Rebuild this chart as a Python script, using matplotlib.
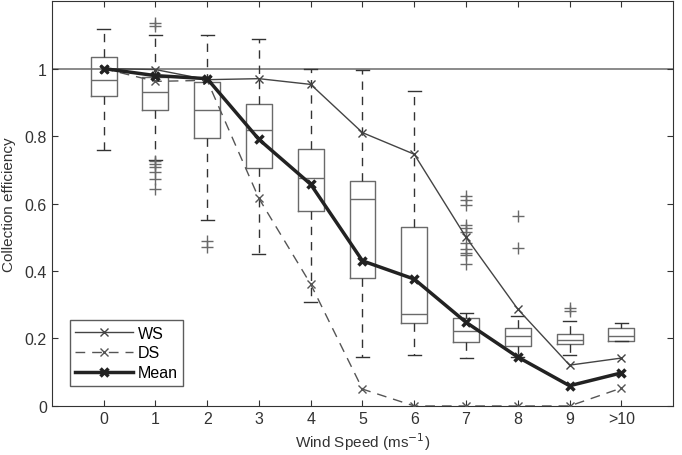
import matplotlib.pyplot as plt
import numpy as np

plt.rcParams['font.family'] = ['Liberation Sans', 'DejaVu Sans']

# Daten
labels = ['0', '1', '2', '3', '4', '5', '6', '7', '8', '9', '>10']
q1 = [0.92, 0.876, 0.795, 0.704, 0.578, 0.38, 0.245, 0.189, 0.178, 0.183, 0.192]
med = [0.967, 0.929, 0.876, 0.817, 0.675, 0.612, 0.272, 0.222, 0.207, 0.195, 0.207]
q3 = [1.033, 0.976, 0.959, 0.896, 0.763, 0.666, 0.53, 0.26, 0.231, 0.213, 0.231]
whislo = [0.76, 0.73, 0.55, 0.45, 0.308, 0.145, 0.151, 0.142, 0.145, 0.151, 0.192]
whishi = [1.118, 1.10, 1.098, 1.088, 1.0, 0.997, 0.932, 0.275, 0.266, 0.251, 0.246]
fliers = [
    [],
    [1.127, 1.136, 0.725, 0.716, 0.707, 0.692, 0.672, 0.642],
    [0.49, 0.47],
    [],
    [],
    [],
    [],
    [0.621, 0.609, 0.595, 0.536, 0.527, 0.515, 0.482, 0.464, 0.453, 0.447, 0.42],
    [0.562, 0.467],
    [0.29, 0.28],
    [],
]
ws = [1.0, 0.997, 0.967, 0.97, 0.953, 0.81, 0.746, 0.5, 0.287, 0.121, 0.142]
ds = [1.0, 0.962, 0.965, 0.615, 0.361, 0.05, 0.0, 0.0, 0.0, 0.0, 0.053]
mean = [1.0, 0.979, 0.97, 0.79, 0.657, 0.43, 0.376, 0.248, 0.145, 0.06, 0.098]

x = np.arange(len(labels))

fig = plt.figure(figsize=(6.82, 4.56), dpi=100)
ax = fig.add_axes([0.076, 0.1075, 0.911, 0.888])

stats = []
for i in range(len(labels)):
    stats.append({'med': med[i], 'q1': q1[i], 'q3': q3[i],
                  'whislo': whislo[i], 'whishi': whishi[i], 'fliers': fliers[i]})

grey = '#6a6a6a'
ax.bxp(stats, positions=x, widths=0.5, showfliers=True,
       boxprops=dict(color=grey, linewidth=1),
       medianprops=dict(color=grey, linewidth=1),
       whiskerprops=dict(color='#333333', linewidth=1, linestyle=(0, (6, 5))),
       capprops=dict(color='#333333', linewidth=1),
       flierprops=dict(marker='+', markeredgecolor=grey, markersize=8, linestyle='none'),
       manage_ticks=False)

ax.axhline(1.0, color='#777777', linewidth=1.2, zorder=1)

ax.plot(x, ws, color='#444444', linewidth=1, marker='x', markersize=6, label='WS', zorder=4)
ax.plot(x, ds, color='#555555', linewidth=1, linestyle=(0, (7, 5)), marker='x',
        markersize=6, label='DS', zorder=4)
ax.plot(x, mean, color='#222222', linewidth=2.5, marker='x', markersize=6,
        markeredgewidth=2.5, label='Mean', zorder=5)

ax.set_xlim(-1, 11)
ax.set_ylim(0, 1.2)
ax.set_xticks(x)
ax.set_xticklabels(labels)
ax.set_yticks([0, 0.2, 0.4, 0.6, 0.8, 1.0])
ax.set_yticklabels(['0', '0.2', '0.4', '0.6', '0.8', '1'])
ax.tick_params(direction='in', top=True, right=True, labelsize=11.5, colors='#333333',
               labelcolor='#333333', length=4)
for s in ax.spines.values():
    s.set_color('#333333')

ax.set_xlabel('Wind Speed (ms$^{-1}$)', fontsize=11, color='#333333', labelpad=3)
ax.set_ylabel('Collection efficiency', fontsize=11, color='#333333')
ax.yaxis.set_label_coords(-0.058, 0.5)

leg = ax.legend(loc='lower left', bbox_to_anchor=(0.016, 0.03), fontsize=11.5,
                fancybox=False, edgecolor='#333333', handlelength=3.6,
                borderpad=0.35, labelspacing=0.3, handletextpad=0.3)
leg.get_frame().set_linewidth(1)

plt.savefig('out.png', dpi=100)
plt.close()
